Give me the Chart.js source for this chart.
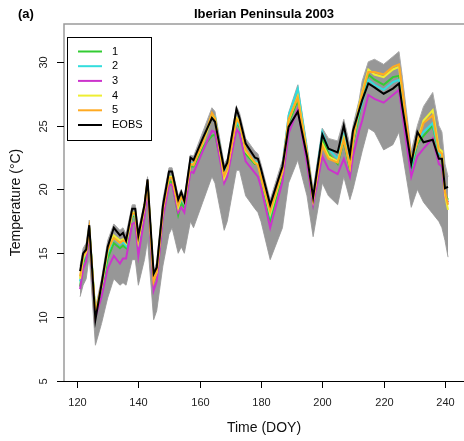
<!DOCTYPE html>
<html>
<head>
<meta charset="utf-8">
<script src="https://cdn.jsdelivr.net/npm/chart.js@4.4.0/dist/chart.umd.min.js"></script>
<style>
    html, body { margin: 0; padding: 0; background: #fff; }
    canvas { display: block; }
</style>
</head>
<body>
<canvas id="tempCanvas" width="464" height="441"></canvas>
<script>
// Day of year for every sampled point
const days = [121,122,123,124,126,128,130,132,134,135,136,138,139,140,142,143,145,146,148,150,
    151,153,154,155,157,158,161,164,165,168,169,172,173,175,178,179,180,183,187,189,
    192,195,197,200,202,205,207,209,210,212,213,215,217,220,223,225,226,229,231,233,
    236,238,239,240,241];

const eobs = [13.6,15.0,15.3,17.2,9.8,12.6,15.5,17.0,16.4,16.6,16.0,18.5,18.5,16.4,18.8,20.8,13.4,13.9,18.7,21.4,
    21.4,19.2,19.8,19.1,22.5,22.3,24.0,25.6,25.3,21.6,22.1,26.3,25.6,23.6,22.5,22.4,21.6,18.8,21.8,24.9,
    26.1,22.6,19.4,24.3,23.2,22.9,25.0,22.7,24.6,26.2,27.0,28.3,28.0,27.5,27.9,28.3,26.6,22.0,24.5,23.7,
    23.9,22.4,22.4,20.1,20.2];

const run1 = [12.4,14.2,14.8,16.8,10.2,12.0,14.6,15.8,15.4,15.6,15.4,17.9,17.9,15.6,18.3,20.4,12.8,13.4,18.2,20.6,
    20.6,18.0,18.9,18.6,21.8,21.8,23.3,24.2,24.3,21.0,21.6,25.2,24.9,22.8,22.0,22.0,21.0,17.6,21.2,25.2,
    27.0,22.8,19.0,23.9,22.8,22.0,23.8,21.6,23.6,25.8,27.0,29.0,28.6,28.2,28.8,28.9,27.2,21.6,23.6,24.2,
    25.0,22.8,22.6,19.6,19.2];

const run2 = [12.8,14.5,15.0,17.0,10.3,12.3,15.0,16.2,15.7,15.9,15.6,18.0,18.0,15.8,18.5,20.5,13.0,13.6,18.5,21.0,
    21.0,18.6,19.3,18.9,22.1,22.0,23.8,25.9,25.7,21.2,21.8,25.3,25.0,23.0,22.2,22.1,21.2,18.0,21.6,25.8,
    27.9,23.0,19.2,24.5,23.2,22.4,24.2,22.0,23.8,26.0,26.8,28.6,28.2,27.8,28.4,28.6,27.0,21.8,23.8,24.5,
    25.2,22.9,22.6,19.5,19.0];

const run3 = [12.2,13.8,14.4,16.6,10.0,11.6,13.8,14.8,14.2,14.6,14.6,17.3,17.4,14.8,17.8,20.0,12.1,12.8,17.8,20.3,
    20.4,18.2,18.6,18.2,21.4,21.3,23.0,24.6,24.5,20.5,21.0,24.7,24.4,22.2,21.3,21.0,20.2,17.0,20.6,24.4,
    26.3,22.0,18.8,22.6,21.6,21.2,22.4,21.0,22.6,24.6,25.4,27.4,27.1,26.8,27.4,27.8,26.0,21.0,22.6,23.2,
    24.0,22.0,21.8,19.4,19.0];

const run4 = [13.0,14.6,15.1,17.0,10.4,12.4,15.2,16.4,16.0,16.1,15.8,18.2,18.2,16.0,18.6,20.6,12.9,13.5,18.5,21.0,
    21.0,18.6,19.4,19.0,22.0,22.0,23.6,25.7,25.5,20.9,21.5,25.6,25.3,23.0,22.1,22.0,21.0,18.1,21.4,25.4,
    27.3,22.9,19.2,23.6,22.6,22.2,24.0,21.8,23.8,26.6,27.6,29.4,29.0,28.8,29.4,29.6,27.8,22.2,23.8,25.4,
    26.2,23.2,23.0,19.6,18.4];

const run5 = [13.2,14.8,15.2,16.9,10.2,12.5,15.3,16.2,15.8,16.0,15.9,18.1,18.1,16.1,18.7,20.7,12.8,13.6,18.4,20.9,
    20.9,18.8,19.4,19.0,22.0,21.9,23.7,26.0,25.6,21.1,21.6,25.5,25.2,23.1,22.1,21.9,21.0,18.3,21.5,25.5,
    27.2,22.8,19.3,23.4,22.4,22.1,23.9,21.8,23.8,26.4,27.5,29.2,29.2,29.0,29.6,29.8,28.0,22.3,23.7,25.2,
    25.8,23.0,22.8,19.8,18.8];

// Envelope of the grey ensemble members
const ensembleMax = [14.0,15.4,15.8,17.6,10.7,13.0,16.0,17.3,16.8,17.0,16.5,18.8,18.8,16.8,19.0,21.0,13.6,14.3,19.2,21.7,
    21.7,19.5,20.0,19.4,22.7,22.6,24.5,26.4,26.1,22.0,22.4,26.5,26.0,24.0,23.0,22.8,22.0,19.2,22.3,26.0,
    28.2,23.5,20.0,24.8,24.0,23.8,25.5,23.5,25.0,27.0,28.5,30.0,30.2,29.8,30.4,30.8,29.0,23.0,25.0,26.5,
    27.6,25.0,24.5,22.0,21.0];

const ensembleMin = [11.6,12.5,13.0,14.8,7.8,9.5,11.5,13.0,12.5,12.7,12.5,14.5,14.5,12.5,14.5,16.0,9.8,10.5,14.0,16.5,
    17.0,15.0,15.5,15.0,17.5,17.0,19.0,21.0,20.5,16.8,17.5,21.5,21.5,19.5,18.5,18.2,17.5,14.5,17.0,20.5,
    22.3,19.5,16.3,20.5,19.5,18.8,21.0,19.2,20.0,22.0,23.0,24.8,24.5,23.1,23.5,24.5,23.0,18.6,20.0,19.0,
    18.1,17.5,17.0,16.0,14.7];

const xTicks = [120, 140, 160, 180, 200, 220, 240];
const yTicks = [5, 10, 15, 20, 25, 30];

const seriesNames = ["1", "2", "3", "4", "5", "EOBS"];
const seriesValues = [run1, run2, run3, run4, run5, eobs];
const seriesColours = ["#33cc33", "#33dddd", "#cc33cc", "#eeee33", "#ffaa22", "#000000"];

function toPoints(values) {
    return days.map((d, i) => ({ x: d, y: values[i] }));
}

const datasets = [
    {
        data: toPoints(ensembleMin),
        borderColor: "#a8a8a8",
        borderWidth: 1,
        pointRadius: 0,
        fill: false,
        order: 20
    },
    {
        data: toPoints(ensembleMax),
        borderColor: "#a8a8a8",
        borderWidth: 1,
        backgroundColor: "#979797",
        pointRadius: 0,
        fill: "-1",
        order: 19
    }
];

seriesValues.forEach((values, i) => {
    datasets.push({
        label: seriesNames[i],
        data: toPoints(values),
        borderColor: seriesColours[i],
        borderWidth: 2,
        pointRadius: 0,
        fill: false,
        order: 10 - i
    });
});

// Axes, frame, title and legend in the R base-graphics look
const decorPlugin = {
    id: "decor",
    afterDraw(chart) {
        const ctx = chart.ctx;
        const area = chart.chartArea;
        const xs = chart.scales.x;
        const ys = chart.scales.y;

        ctx.save();

        // grey box
        ctx.strokeStyle = "#9a9a9a";
        ctx.lineWidth = 1.5;
        ctx.beginPath();
        ctx.moveTo(area.left, area.bottom);
        ctx.lineTo(area.left, area.top);
        ctx.lineTo(area.right, area.top);
        ctx.stroke();

        // x axis
        ctx.strokeStyle = "#000";
        ctx.lineWidth = 1;
        ctx.beginPath();
        ctx.moveTo(area.left, area.bottom + 0.5);
        ctx.lineTo(area.right, area.bottom + 0.5);
        ctx.stroke();

        ctx.fillStyle = "#222";
        ctx.font = "11px 'Liberation Sans', Arial, sans-serif";
        ctx.textAlign = "center";
        ctx.textBaseline = "middle";
        for (const t of xTicks) {
            const px = Math.round(xs.getPixelForValue(t)) + 0.5;
            ctx.beginPath();
            ctx.moveTo(px, area.bottom);
            ctx.lineTo(px, area.bottom + 7);
            ctx.stroke();
            ctx.fillText(String(t), px, area.bottom + 22);
        }

        // y axis ticks and rotated labels
        for (const t of yTicks) {
            const py = Math.round(ys.getPixelForValue(t)) + 0.5;
            ctx.beginPath();
            ctx.moveTo(area.left - 7, py);
            ctx.lineTo(area.left, py);
            ctx.stroke();
            ctx.save();
            ctx.translate(area.left - 20, py);
            ctx.rotate(-Math.PI / 2);
            ctx.fillText(String(t), 0, 0);
            ctx.restore();
        }

        // axis titles
        ctx.fillStyle = "#111";
        ctx.font = "14px 'Liberation Sans', Arial, sans-serif";
        ctx.fillText("Time (DOY)", (area.left + area.right) / 2, area.bottom + 47);
        ctx.save();
        ctx.translate(16, (area.top + area.bottom) / 2);
        ctx.rotate(-Math.PI / 2);
        ctx.fillText("Temperature (\u00B0C)", 0, 0);
        ctx.restore();

        // title and panel tag
        ctx.fillStyle = "#000";
        ctx.font = "bold 13px 'Liberation Sans', Arial, sans-serif";
        ctx.fillText("Iberian Peninsula 2003", (area.left + area.right) / 2, 14);
        ctx.textAlign = "left";
        ctx.fillText("(a)", 18, 14);

        // legend box
        const boxLeft = 67, boxTop = 37, boxW = 84, boxH = 103;
        ctx.fillStyle = "#fff";
        ctx.fillRect(boxLeft, boxTop, boxW, boxH);
        ctx.strokeStyle = "#000";
        ctx.lineWidth = 1;
        ctx.strokeRect(boxLeft + 0.5, boxTop + 0.5, boxW, boxH);

        ctx.font = "11px 'Liberation Sans', Arial, sans-serif";
        ctx.textBaseline = "middle";
        seriesNames.forEach((name, i) => {
            const rowY = 51.5 + i * 14.7;
            ctx.strokeStyle = seriesColours[i];
            ctx.lineWidth = 2;
            ctx.beginPath();
            ctx.moveTo(78, rowY);
            ctx.lineTo(102, rowY);
            ctx.stroke();
            ctx.fillStyle = "#000";
            ctx.fillText(name, 112, rowY);
        });

        ctx.restore();
    }
};

new Chart(document.getElementById("tempCanvas").getContext("2d"), {
    type: "line",
    data: { datasets },
    options: {
        responsive: false,
        animation: false,
        devicePixelRatio: 1,
        layout: { padding: { left: 64, right: 0, top: 24, bottom: 60 } },
        elements: { line: { tension: 0 } },
        plugins: {
            legend: { display: false },
            tooltip: { enabled: false }
        },
        scales: {
            x: { type: "linear", min: 115.76, max: 246.2, display: false },
            y: { type: "linear", min: 5, max: 32.96, display: false }
        }
    },
    plugins: [decorPlugin]
});
</script>
</body>
</html>
